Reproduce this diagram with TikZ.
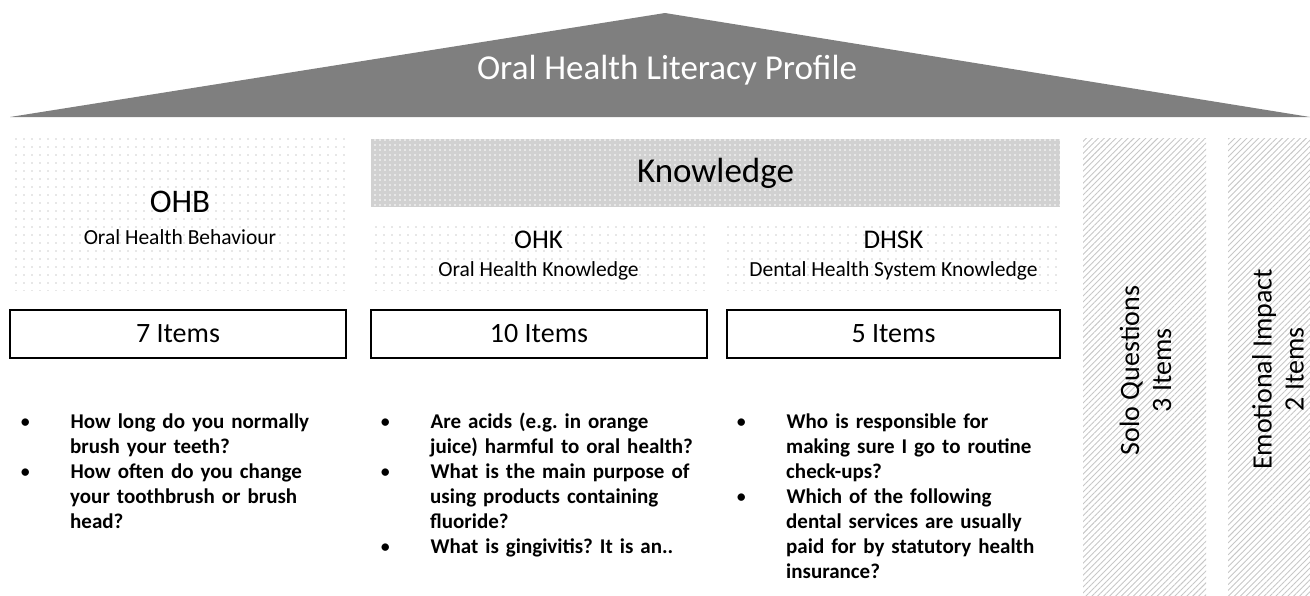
\documentclass[tikz,border=0pt]{standalone}
\usepackage{fontspec}
\setmainfont{Carlito}
\usepackage{enumitem}
\usetikzlibrary{patterns.meta}

\definecolor{roofgray}{HTML}{7F7F7F}
\frenchspacing

\begin{document}
\begin{tikzpicture}[x=1pt,y=-1pt,inner sep=0pt,
	dotbox/.style={pattern={Dots[distance=8pt,radius=0.6pt]},pattern color=black!40,align=center},
	knowbox/.style={preaction={fill=black!18},pattern={Dots[distance=5pt,radius=0.8pt]},pattern color=white},
	itembox/.style={draw,line width=2.6pt,minimum height=48pt,font=\fontsize{28}{32}\selectfont},
	hatchbox/.style={pattern={Lines[angle=45,distance=4.2pt,line width=0.9pt]},pattern color=black!22},
	colname/.style={rotate=90,align=center,font=\fontsize{28}{32}\selectfont},
	questions/.style={anchor=north west,text width=340pt,font=\bfseries\fontsize{21}{25}\selectfont}]
	\useasboundingbox (0,0) rectangle (1310,595);

	% roof
	\fill[roofgray] (10,117) -- (665,13) -- (1310,117) -- cycle;
	\node[text=white,font=\fontsize{35}{40}\selectfont] (roof_title) at (667,70) {Oral Health Literacy Profile};

	% scales
	\node[dotbox,minimum width=330pt,minimum height=153pt] (ohb) at (180,213.5) {};
	\node[align=center,font=\fontsize{21.5}{32}\selectfont] (ohb_name) at (180,218)
		{{\fontsize{33}{32}\selectfont OHB}\\Oral Health Behaviour};
	\node[knowbox,minimum width=689pt,minimum height=68pt,font=\fontsize{35}{40}\selectfont] (know) at (715.5,173) {Knowledge};
	\node[dotbox,minimum width=335pt,minimum height=68pt,font=\fontsize{21.5}{28}\selectfont] (ohk) at (538.5,256)
		{{\fontsize{27}{28}\selectfont OHK}\\Oral Health Knowledge};
	\node[dotbox,minimum width=333pt,minimum height=68pt,font=\fontsize{21.5}{28}\selectfont] (dhsk) at (893.5,256)
		{{\fontsize{27}{28}\selectfont DHSK}\\Dental Health System Knowledge};

	% number of items
	\node[itembox,minimum width=336pt] (items_ohb) at (178,334) {7 Items};
	\node[itembox,minimum width=336pt] (items_ohk) at (539,334) {10 Items};
	\node[itembox,minimum width=333pt] (items_dhsk) at (893.5,334) {5 Items};

	% single questions
	\node[hatchbox,minimum width=123pt,minimum height=457pt] (solo) at (1144.5,366.5) {};
	\node[hatchbox,minimum width=82pt,minimum height=457pt] (emo) at (1269,366.5) {};
	\node[colname] (solo_name) at ([xshift=1pt,yshift=-4pt]solo.center) {Solo Questions\\3 Items};
	\node[colname] (emo_name) at ([xshift=9pt,yshift=-3pt]emo.center) {Emotional Impact\\2 Items};

	% example questions
	\setlist[itemize]{leftmargin=45pt,labelwidth=10pt,labelsep=40pt,align=left,nosep}
	\node[questions] (q_ohb) at (25,403) {\begin{itemize}
		\item How long do you normally\par brush your teeth?
		\item How often do you change\par your toothbrush or brush\par head?
	\end{itemize}};
	\node[questions] (q_ohk) at (385,403) {\begin{itemize}
		\item Are acids (e.g. in orange\par juice) harmful to oral health?
		\item What is the main purpose of\par using products containing\par fluoride?
		\item What is gingivitis? It is an..
	\end{itemize}};
	\node[questions] (q_dhsk) at (741,403) {\begin{itemize}
		\item Who is responsible for\par making sure I go to routine\par check-ups?
		\item Which of the following\par dental services are usually\par paid for by statutory health\par insurance?
	\end{itemize}};
\end{tikzpicture}
\end{document}
